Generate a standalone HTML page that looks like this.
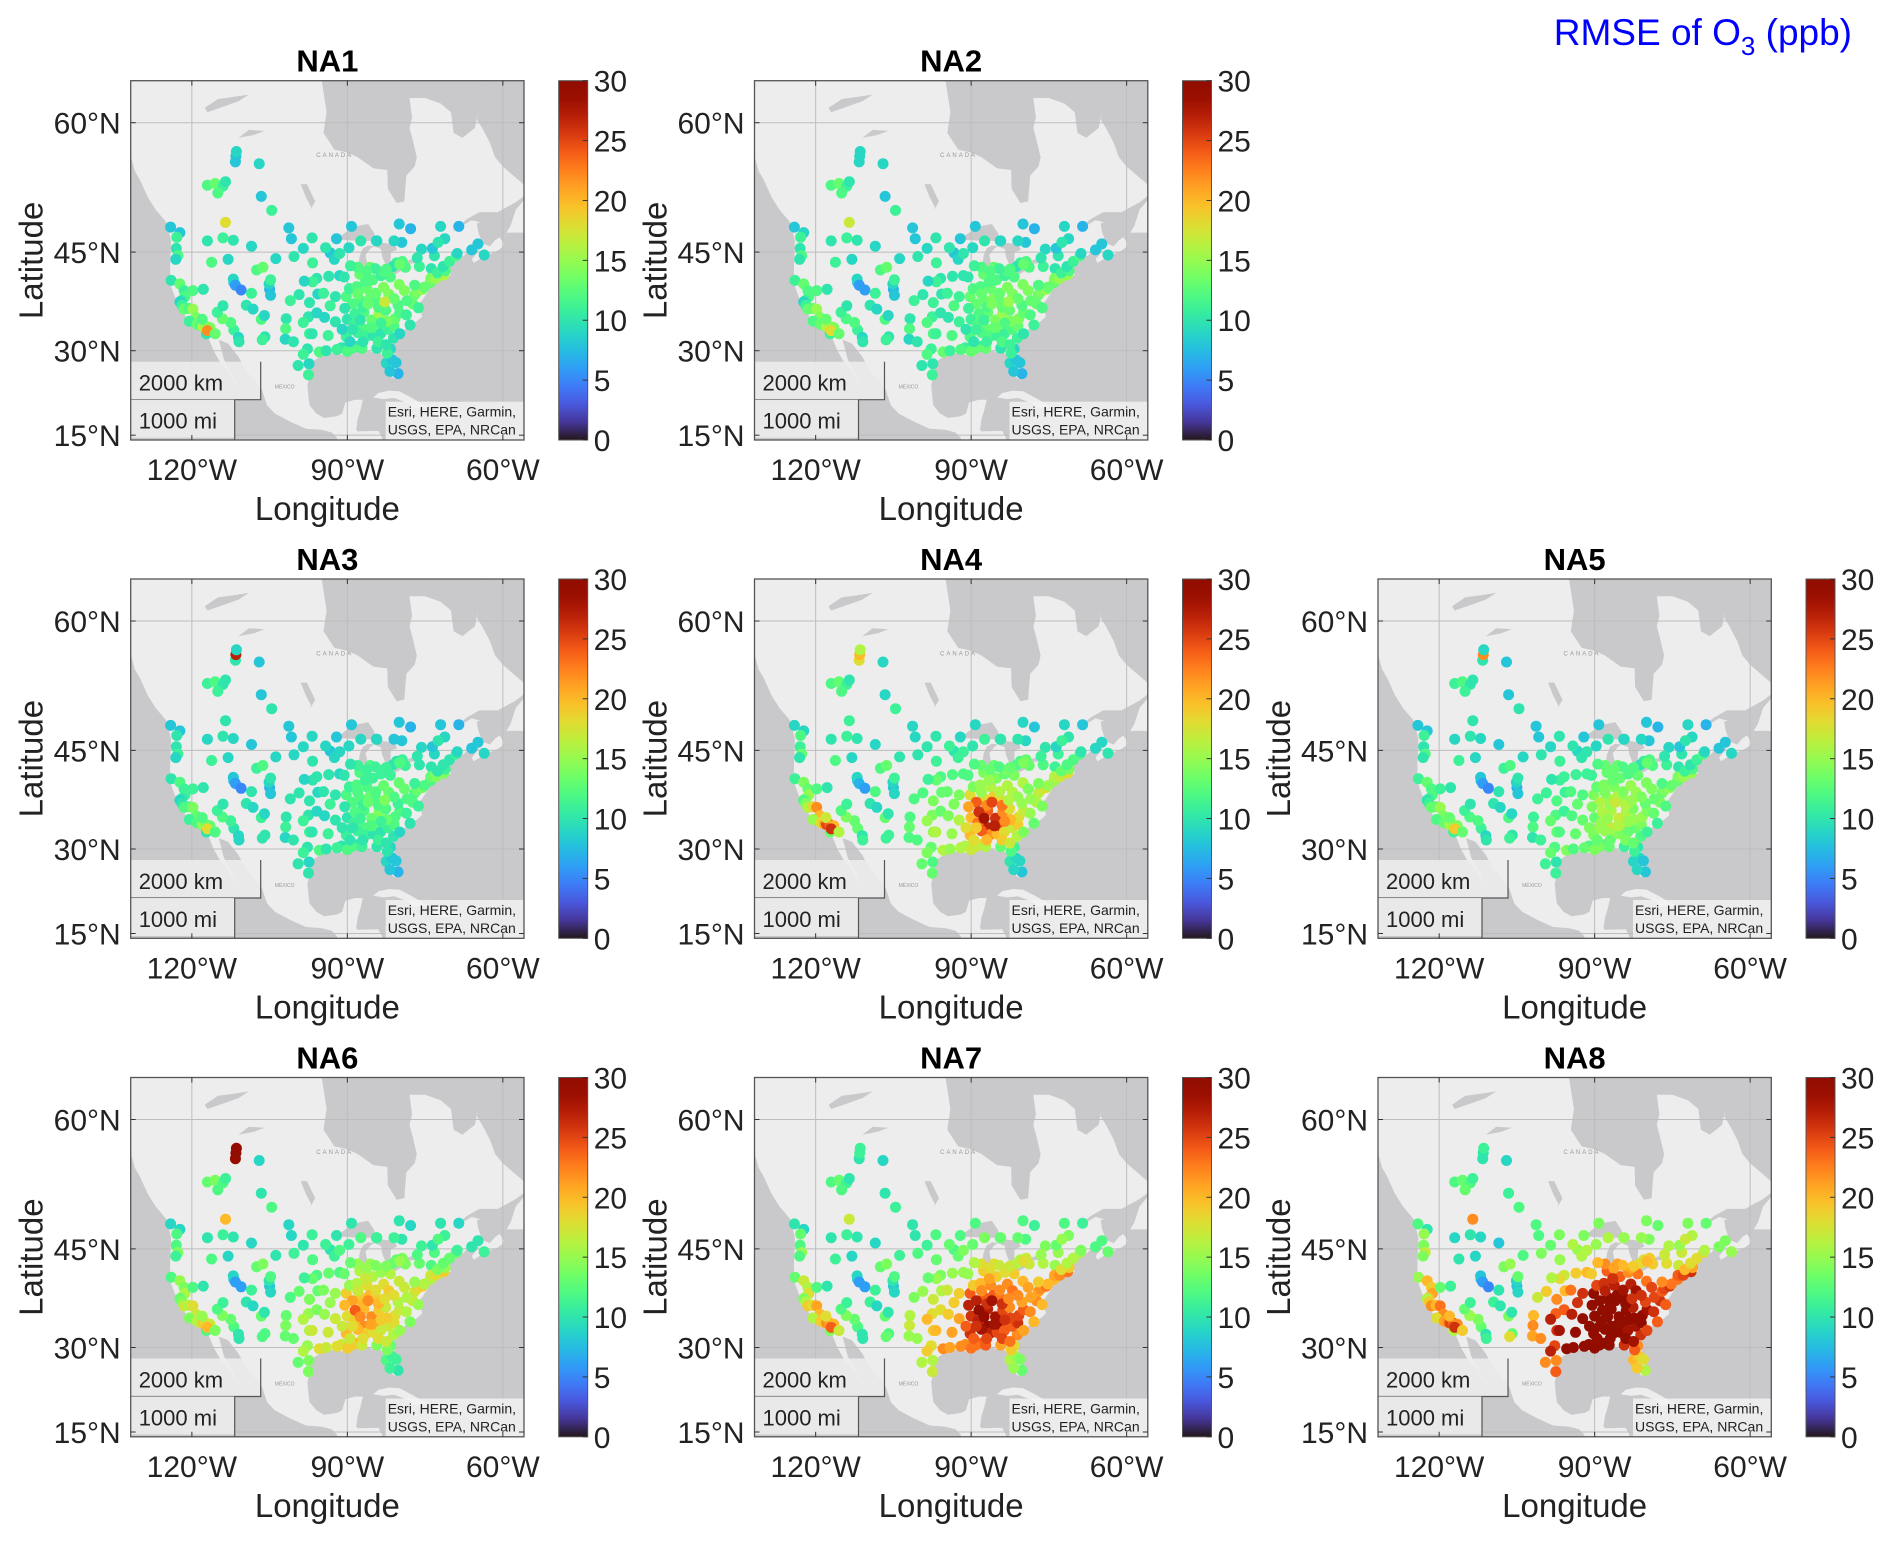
<!DOCTYPE html>
<html><head><meta charset="utf-8"><style>
body{margin:0;background:#fff;}
svg{display:block;font-family:"Liberation Sans",Arial,sans-serif;}
</style></head><body>
<svg id="fig" width="1892" height="1541" viewBox="0 0 1892 1541" xmlns="http://www.w3.org/2000/svg">
<text x="1852" y="45" text-anchor="end" font-size="37" fill="#0000ff">RMSE of O<tspan font-size="26" dy="10">3</tspan><tspan dy="-10"> (ppb)</tspan></text>
</svg>
<script>
// ---- station coordinates (lon / lat) grouped W-coast, interior west, north, plains, east ----
const lons = [
-122.3,-122.9,-123,-122.7,-123.1,-124,-122.3,-121.5,-121.3,-122,-122.3,-121.9,-121.5,-120.6,-119.8,-119.2,-120.5,-119,-118.3,-117.9,-117.3,-116.5,-117.2,-117,-115.5,-118,-124.1,
-116.2,-117,-114,-112,-108.5,-111.9,-112,-111.6,-110.5,-108.5,-105,-105.1,-104.8,-106.6,-106,-105.9,-111.9,-111,-110.9,-112.5,-114.1,-115.1,-114,-119.8,-117.8,-113,-107.5,-106.3,-104.8,-103.8,-109.5,-108.2,
-117,-115.5,-114,-113.5,-115,-111.6,-111.5,-111.4,-107,-113.5,-106.6,-104.6,
-100.8,-96.8,-98.5,-96.7,-100.3,-101.3,-95.9,-96.7,-98.3,-97.3,-95.7,-99.3,-101,-97.5,-95.9,-98.5,-101.8,-101.9,-97.3,-96.8,-97.7,-98.5,-95.4,-94.1,-97.4,-97.5,-99.5,-102,-106.4,-100.4,-93.3,-92.5,-94.2,-93.6,-91.5,-94.6,-92.3,-90.2,-93.3,-92.3,-94.4,-90.2,-91.1,-93.7,-90,-92,-88.2,-89.1,
-87.6,-88,-89.4,-90.6,-89.6,-88.2,-86.2,-85.1,-87.5,-85.7,-84.5,-84.5,-83,-81.7,-83.5,-83,-85.6,-84.6,-86.3,-84.4,-87.4,-89.7,-91.5,-92.1,
-86.8,-85.3,-83.9,-82.6,-90,-88.7,-86.8,-86.3,-85,-88,-84.4,-83.6,-81.1,-82.1,-81,-80.8,-79.9,-78.6,-77.9,-79.9,-82.4,-80.2,-77.4,-76.3,-78.5,
-77,-76.6,-75.5,-75.2,-77,-80,-78.8,-76.1,-73.8,-74,-73.9,-72.9,-71.4,-71.1,-72.6,-71.5,-70.3,-69,-68.8,-73.2,-75.7,-73.6,-71.2,-72.5,-79.4,-80.5,-81.2,-82.5,-79.9,-76.5,-79.5,-81,-84.3,-89.2,-80,-77.8,-72,-68.5,-66,-63.6,-64.8,
-82.5,-81.4,-80.2,-81.7,-84.3,-82.3,-80.6,-87.2,-81.8,
-87,-89,-86,-84,-88.5,-87.5,-85.5,-83.5,-87,-89.5,-84,-82.5,-90.5,-88,-86.5,-82,-81,-79,-82.8,-91,-89];
const lats = [
47.6,47,45.5,44.5,44,41,40.5,39.5,38.6,38,37.8,37.3,36.7,36.8,36.7,35.4,34.8,34.3,34.1,34,34,33.8,32.8,33.3,32.8,35.1,48.3,
43.6,46.5,46.9,46.6,45.8,40.7,41.2,40.3,39.6,39.1,39.7,40.5,38.8,35.1,35.7,32.3,33.4,32.2,31.5,34.6,35.2,36.2,37.2,39.5,39.7,44,42.5,42.9,41.1,44.1,37.3,36.7,
53.4,53.6,53.3,53.8,52.5,56.0,56.6,57.1,55.8,48.9,52.1,50.4,
46.8,46.9,45.5,43.5,44.4,48.2,41.3,40.8,40.9,37.7,39,38.9,38,35.5,36.1,34.6,35.2,33.6,32.8,32.8,30.3,29.4,29.8,30,27.8,25.9,27.5,31.9,31.8,31.5,44.9,44,45.6,41.6,41.7,39.1,38.6,38.6,37.2,34.7,35.4,32.3,30.5,32.5,29.9,30.2,30.7,30.4,
41.9,42.9,43.1,41.5,39.8,40.1,39.8,41.1,38,38.3,38,39.1,40,41.5,41.7,42.3,42.9,42.7,42.3,46.5,46.5,45.6,44.8,46.8,
36.2,35,36,36.5,35.1,34.3,33.5,32.4,32.5,33,33.8,32.8,32.1,33.5,34,35.2,36.1,35.8,34.2,32.8,34.8,37.3,37.5,36.9,38,
38.9,39.3,39.7,40,40.3,40.4,42.9,43,42.7,40.7,41.3,41.3,41.8,42.4,42.1,43,43.7,44.5,44.8,44.5,45.4,45.5,46.8,46.3,43.7,43.5,43,42.6,43.3,44.2,46.3,46.5,46.5,48.4,48.7,48.1,48.4,48.4,45.3,44.6,46.1,
27.9,28.5,26.1,30.3,30.4,29.6,28,30.4,26.5,
37,37.5,37.5,37,36,35,33.8,34.5,31.5,31.5,31.5,31,36.8,39,40.8,39,38.3,39.5,37.8,33.5,33.5];

// ---- RMSE values (ppb), one per station, per experiment ----
const rmseNA1 = [8,11,10,12,9,10,13,11,12,10,9,11,13,12,15,14,11,13,12,16,15,14,10,22,13,12,8,
12,10,11,10,9,8,9,6,5,11,7,9,8,12,9,10,11,9,10,12,13,11,10,12,10,9,12,13,11,9,10,9,
12,13,11,10,12,8,8,9,9,18,8,11,
8,10,9,11,10,8,10,11,9,10,9,10,11,10,9,11,10,12,11,10,10,11,12,10,9,11,10,9,11,10,8,9,10,10,9,11,10,12,11,10,9,11,10,11,12,11,10,12,
13,12,11,10,11,12,13,12,12,13,12,13,14,12,11,12,13,11,12,9,10,9,10,8,
12,13,15,12,10,11,12,11,10,11,13,10,10,11,12,13,12,11,10,9,14,12,13,11,12,
13,14,15,13,12,14,12,11,10,13,14,15,16,12,11,10,11,12,9,10,9,8,9,10,12,11,10,12,13,10,8,9,9,8,8,7,9,7,8,9,8,
9,8,7,9,10,11,8,12,8,
11,12,13,12,11,10,12,11,10,9,11,10,10,13,12,14,13,14,17,9,10];
const rmseNA2 = [9,11,10,12,10,11,13,12,12,11,9,11,13,13,15,14,12,13,13,16,16,14,11,18,13,13,8,
11,10,11,10,9,8,9,6,6,11,7,9,8,12,9,10,11,9,10,12,12,11,10,12,10,9,12,13,11,9,10,9,
12,13,11,10,12,9,9,9,9,17,8,11,
8,10,9,11,10,8,10,11,9,11,10,10,11,11,10,12,10,12,12,11,11,12,13,11,10,11,10,9,11,10,8,9,10,10,10,11,11,13,12,11,10,12,11,12,13,12,11,13,
13,12,11,10,12,12,13,12,13,14,13,13,14,12,11,12,13,11,12,9,10,9,10,8,
13,14,15,13,11,12,13,12,11,12,14,11,11,12,13,14,13,12,11,10,14,12,13,12,13,
13,14,15,13,12,14,12,11,10,13,14,15,15,12,11,10,11,12,9,10,9,8,9,10,12,11,10,12,13,10,8,9,9,8,8,7,9,7,8,9,8,
9,8,7,9,10,11,8,13,8,
12,13,14,13,12,11,13,12,11,10,12,11,11,13,12,14,13,14,15,10,11];
const rmseNA3 = [8,10,10,11,9,10,12,11,11,10,9,10,12,12,14,13,11,12,12,15,14,13,10,18,12,12,8,
11,9,10,9,8,7,8,6,5,10,7,9,8,11,9,10,10,9,9,11,12,11,10,11,10,9,11,12,10,9,10,9,
11,12,10,10,11,10,27,9,8,10,8,10,
8,9,9,10,9,8,10,10,9,10,9,10,10,10,9,11,10,11,11,10,10,11,12,10,9,10,10,9,10,10,8,9,9,10,9,10,10,12,11,10,9,11,10,11,12,11,10,12,
12,11,10,10,11,12,12,11,12,13,12,12,13,11,11,11,12,11,11,9,9,9,9,8,
12,13,14,12,10,11,12,11,10,11,13,10,10,11,12,12,12,11,10,9,13,11,12,11,12,
12,13,14,12,11,13,11,10,10,12,13,14,14,11,10,10,10,11,9,9,9,8,9,10,11,10,10,11,12,10,8,8,9,8,8,7,8,7,8,9,8,
9,8,7,9,10,10,8,11,8,
11,12,13,12,12,11,12,11,10,10,11,10,10,12,11,13,12,13,14,10,10];
const rmseNA4 = [9,12,11,13,10,11,14,13,15,14,12,14,16,18,22,20,15,18,21,25,24,20,13,26,16,17,9,
12,10,11,10,9,8,9,7,6,12,8,9,9,13,10,11,13,10,11,13,14,12,11,12,10,9,12,13,11,10,10,9,
12,13,11,10,12,18,20,16,9,11,9,11,
9,10,10,11,10,9,12,13,11,14,13,12,12,14,13,15,12,13,15,16,13,14,16,15,12,13,13,12,11,12,10,11,11,12,12,13,14,18,14,16,14,20,16,15,17,16,18,17,
14,13,12,12,14,15,16,14,18,19,18,16,16,14,13,14,13,12,13,10,11,10,11,9,
24,26,22,18,20,23,27,22,20,24,25,18,16,17,19,18,17,15,13,14,20,15,16,14,15,
16,17,18,15,14,16,13,12,11,15,16,17,18,14,13,12,12,12,10,11,10,9,10,11,13,12,12,13,14,11,9,10,10,9,9,8,9,8,9,10,9,
10,9,8,11,13,12,9,16,9,
22,24,25,23,26,28,27,22,20,18,19,17,21,15,15,16,15,14,16,18,19];
const rmseNA5 = [8,11,10,12,10,11,13,12,12,11,10,11,13,13,15,14,12,13,13,16,15,14,11,19,13,13,8,
11,9,10,9,8,7,8,6,5,10,7,9,8,12,9,10,11,9,10,12,12,11,10,11,10,9,11,12,10,9,10,9,
11,12,10,10,11,10,22,9,8,10,8,10,
8,10,9,11,10,8,11,11,10,12,11,11,11,12,11,13,11,12,13,12,12,13,14,12,10,11,11,10,11,11,9,10,10,11,11,12,12,14,13,13,12,14,12,13,14,13,12,14,
13,13,12,11,13,14,14,13,15,16,15,14,15,13,12,12,13,12,13,9,10,9,10,8,
16,17,16,14,13,15,17,15,14,15,17,13,12,13,14,15,14,13,11,11,15,13,14,12,13,
13,14,15,13,12,14,12,11,10,13,14,15,15,12,11,10,11,12,9,10,9,8,9,10,12,11,10,12,13,10,8,9,9,8,8,7,9,7,8,9,8,
9,9,8,10,11,11,8,13,9,
15,16,17,16,16,15,16,15,13,13,14,13,14,14,13,15,14,14,15,14,15];
const rmseNA6 = [9,12,12,14,11,12,15,14,16,15,13,14,17,16,18,17,14,16,16,19,18,17,12,20,14,15,9,
12,10,11,10,9,8,9,6,6,11,8,10,9,13,10,12,12,10,10,13,14,12,11,12,10,9,13,14,12,10,10,9,
13,14,12,11,12,29,30,29,9,20,10,12,
9,11,10,12,11,9,12,13,11,14,13,13,12,15,14,16,13,14,16,17,15,16,18,17,14,14,13,13,12,13,10,11,11,13,12,14,15,19,15,17,15,20,17,17,19,18,20,19,
16,15,13,13,15,16,18,16,19,20,19,18,18,16,15,15,15,14,15,11,12,11,12,10,
20,22,19,17,18,19,22,19,18,20,21,17,16,17,18,18,17,16,14,15,19,16,17,15,16,
17,18,19,16,15,17,14,13,12,16,17,18,19,15,14,13,13,13,11,12,11,10,11,12,14,13,13,14,15,12,10,11,11,10,10,9,10,9,10,11,10,
12,11,10,13,14,14,11,17,11,
20,21,22,20,24,22,21,19,18,17,18,17,20,17,17,19,18,17,18,17,18];
const rmseNA7 = [9,13,12,15,12,13,17,16,18,17,14,16,19,18,21,20,16,19,19,22,21,20,14,24,17,18,10,
11,10,11,10,9,8,9,6,6,11,8,10,9,13,10,12,12,10,10,13,14,12,11,12,10,9,13,14,12,11,11,9,
12,13,11,10,12,10,11,11,9,17,10,11,
10,12,11,13,12,10,14,15,13,17,16,15,14,18,18,20,16,17,19,20,18,19,22,21,16,17,16,15,13,15,12,13,13,15,15,17,19,24,19,21,19,26,22,21,23,22,24,23,
19,18,16,15,19,20,22,19,24,24,23,22,22,19,18,18,18,17,18,13,14,13,14,12,
27,28,25,22,26,27,30,27,25,28,29,24,22,24,26,25,24,22,20,21,25,21,22,20,21,
21,22,23,20,19,20,17,16,15,20,21,22,23,19,18,16,16,16,14,15,14,13,14,15,17,16,16,17,18,15,12,13,13,12,12,11,12,11,12,13,12,
16,15,13,18,21,19,14,24,15,
26,27,28,26,30,29,28,26,25,24,25,23,27,22,21,23,22,21,22,24,26];
const rmseNA8 = [10,15,14,17,14,15,20,19,21,20,16,19,22,20,23,22,18,21,22,25,24,22,16,26,19,20,12,
10,9,10,9,8,7,8,6,5,10,8,9,9,14,10,13,13,10,11,14,15,13,11,13,11,9,14,15,13,12,11,10,
12,13,12,11,13,10,10,11,9,22,11,12,
12,14,13,15,14,12,17,18,16,22,20,19,17,24,24,27,20,22,26,28,25,27,30,29,22,24,22,21,18,22,15,16,16,19,20,23,26,30,26,29,27,30,30,29,30,30,30,30,
24,22,20,19,25,26,27,24,30,30,29,28,27,23,22,21,21,20,21,15,16,15,16,14,
30,30,29,27,30,30,30,30,29,30,30,28,26,28,30,29,28,26,24,25,29,25,26,24,25,
24,25,26,23,22,23,19,18,17,23,24,25,26,21,20,18,18,18,16,17,16,15,16,17,19,18,18,19,20,17,14,15,15,14,14,13,14,13,14,15,14,
20,19,16,22,26,24,18,30,19,
30,30,30,30,30,30,30,30,30,29,30,28,30,27,26,28,26,25,26,30,30];

const panelNames = ["NA1","NA2","NA3","NA4","NA5","NA6","NA7","NA8"];
const panelValues = [rmseNA1,rmseNA2,rmseNA3,rmseNA4,rmseNA5,rmseNA6,rmseNA7,rmseNA8];
const cbTicks = [0,5,10,15,20,25,30];
const lonTicks = [-120,-90,-60];
const latTicks = [60,45,30,15];

const NS="http://www.w3.org/2000/svg";
const svg=document.getElementById('fig');
function el(tag,attrs,parent){const e=document.createElementNS(NS,tag);for(const k in attrs)e.setAttribute(k,attrs[k]);(parent||svg).appendChild(e);return e;}

const colX=[130.7,754.5,1378], rowY=[80.7,579,1077.5];
const slots=[[0,0],[1,0],[0,1],[1,1],[2,1],[0,2],[1,2],[2,2]];
const W=393.3,H=359.3, LON0=-131.8, PXD=5.183, MTOP=1.4584, PXR=297, CMAX=30;
function merc(lat){return Math.log(Math.tan(Math.PI/4+lat*Math.PI/360));}
function turbo(v){let x=Math.max(0,Math.min(1,v));
 const r=0.13572138+x*(4.61539260+x*(-42.66032258+x*(132.13108234+x*(-152.94239396+x*59.28637943))));
 const g=0.09140261+x*(2.19418839+x*(4.84296658+x*(-14.18503333+x*(4.27729857+x*2.82956604))));
 const b=0.10667330+x*(12.64194608+x*(-60.58204836+x*(110.36276771+x*(-89.90310912+x*27.34824973))));
 const c=t=>Math.round(255*Math.max(0,Math.min(1,t)));return `rgb(${c(r)},${c(g)},${c(b)})`;}

const ocean=[[-50,10],[-83,10],[-83.3,14.5],[-84,15.8],[-88,15.7],[-88.3,16],[-88,18],[-87.5,19.5],[-87,21.5],[-88.5,21.5],[-90.4,21],[-91,19],[-92,18.5],[-94.5,18.2],[-96,19],[-97.3,20.5],[-97.5,22],[-97.7,24],[-97.2,26],[-97.3,27.8],[-96,28.6],[-94,29.6],[-92,29.6],[-90,29.1],[-89,30.2],[-87,30.3],[-85,29.7],[-84,30],[-82.8,28.8],[-82.6,27.5],[-81.8,26],[-81,25.2],[-80.3,25.3],[-80.1,26.5],[-80.6,28.5],[-81.3,30.5],[-81.2,31.8],[-80,32.7],[-78.5,33.8],[-76.7,34.7],[-75.6,35.5],[-75.9,36.9],[-76.3,37.5],[-75.7,37.9],[-75.1,38.6],[-74.4,39.4],[-74,40.4],[-73,40.8],[-71.9,41.3],[-70.7,41.5],[-70,41.8],[-70.6,42.6],[-70.8,43],[-70.2,43.7],[-69,44.1],[-67.5,44.5],[-66.9,45],[-65.5,45.3],[-64.5,45.3],[-66,44],[-65.6,43.5],[-63.6,44.4],[-61,45.2],[-60,45.7],[-59.8,46.1],[-60.6,47],[-61.5,46.6],[-62.5,45.8],[-64,46.2],[-64.8,47.8],[-65,48.8],[-64.3,48.9],[-66,49.2],[-69.8,47.7],[-67,49.3],[-64.5,50.2],[-61,50.2],[-57.5,51.4],[-55.8,52.2],[-56,53.5],[-58,54.5],[-60,55.5],[-61.5,56.5],[-62.5,58],[-64,59.5],[-65,60.3],[-64.8,61],[-64,65],[-50,65]];
const pacific=[[-135,57],[-132,57],[-131,55],[-130,54],[-128.5,52],[-127,50.5],[-125,49],[-124.7,48.4],[-124,46.5],[-124.2,43],[-124.2,40.5],[-123,38],[-122.5,37.5],[-121.9,36.5],[-120.6,34.6],[-118.5,34],[-117.2,32.7],[-116.5,31.5],[-115.8,30],[-114.5,28],[-113,26.5],[-111.8,24.6],[-110,23],[-106.5,23.3],[-105.5,20.5],[-104,19],[-101,17.5],[-98,16.2],[-95,16],[-93,15.5],[-92,14.5],[-92,10],[-135,10]];
const gulfCal=[[-114.8,31.8],[-113,31.2],[-111,29],[-109.5,26.5],[-108,25],[-106.5,23.3],[-110,23],[-111.5,24.5],[-112.5,26.5],[-113.8,28.5]];
const hudson=[[-95,64],[-94,61],[-94.6,59],[-92.5,57.3],[-90,57],[-88,56.5],[-85,55.3],[-82.3,55.1],[-82.2,53],[-80.5,51.3],[-79,51.5],[-78.9,52.5],[-78.6,54.5],[-77,55.5],[-76.6,56.5],[-77.4,58.3],[-78,59.5],[-77.5,60.5],[-78,62.3],[-75,62.3],[-72,61.8],[-70,61],[-69.5,59],[-67.8,58.5],[-65.4,59.5],[-65,60.5],[-64.6,61.3],[-64,65],[-95,65]];
const lakes=[
[[-92.1,46.7],[-90,46.6],[-87.5,46.5],[-85,46.5],[-84.6,46.5],[-84.8,47.5],[-86,48.7],[-88.5,48.4],[-89.5,48],[-91,47.3]],
[[-87.8,42],[-87.5,41.7],[-86.9,41.7],[-86.3,42.5],[-86.2,43.6],[-86.5,44.6],[-85.5,45.5],[-84.8,45.8],[-86,45.9],[-87,45.5],[-87.6,44.5],[-87.8,43.5]],
[[-84.8,45.8],[-83.5,45.4],[-83.3,44.4],[-82.5,43],[-81.7,43.5],[-81.6,45],[-80.4,45.3],[-80.8,46],[-82.5,46.2],[-84,46.3]],
[[-83.4,41.7],[-82.5,41.4],[-81,41.8],[-79,42.6],[-79.2,42.9],[-81,42.6],[-82.5,42.1]],
[[-79.8,43.3],[-78,43.4],[-76.2,43.5],[-76.4,44.2],[-77.5,44],[-79.4,43.6]],
[[-97.2,50.4],[-96.2,51.5],[-97.8,53.5],[-99,53.5],[-98,52],[-97,50.8]],
[[-111,58.5],[-109,59.3],[-106,59.2],[-108,58.8]],
[[-117,61],[-114,61.5],[-111,62],[-109,62.6],[-112,62.4],[-115,62.2],[-117.5,61.4]]];
const islands=[
[[-59.3,47.6],[-58.5,48.5],[-57.5,50.5],[-56,51.6],[-54,51.5],[-54,47.5],[-56.5,47.6],[-58,47.6]],
[[-85,21.9],[-84,22.7],[-82,23.1],[-80,23],[-77.5,21.8],[-75.5,20.7],[-74.2,20.2],[-77.5,19.9],[-78,20.8],[-81,21.8],[-83,21.6]],
[[-74.4,18.5],[-72.8,19.9],[-70,19.7],[-68.4,18.6],[-71,18],[-74,18.2]],
[[-78.3,18.4],[-76.3,18.2],[-76.8,17.9],[-78,18.2]]];

panelNames.forEach((name,i)=>{
 const x0=colX[slots[i][0]], y0=rowY[slots[i][1]], vals=panelValues[i];
 const px=lon=>x0+(lon-LON0)*PXD;
 const py=lat=>y0+(MTOP-merc(lat))*PXR;
 const pts=a=>a.map(p=>px(p[0]).toFixed(1)+','+py(p[1]).toFixed(1)).join(' ');
 const g=el('g',{});
 
 
 const cp=el('clipPath',{id:'clip'+i},g);
 el('rect',{x:x0,y:y0,width:W,height:H},cp);
 const map=el('g',{'clip-path':`url(#clip${i})`},g);
 
 
 el('rect',{x:x0,y:y0,width:W,height:H,fill:'#ededed'},map);
 [ocean,pacific,gulfCal,hudson].forEach(a=>el('polygon',{points:pts(a),fill:'#c9c9cb'},map));
 islands.forEach(a=>el('polygon',{points:pts(a),fill:'#ededed'},map));
 lakes.forEach(a=>el('polygon',{points:pts(a),fill:'#c9c9cb'},map));
 const tl=el('text',{x:px(-96),y:py(56.5),'font-size':6,fill:'#999','letter-spacing':2},map);tl.textContent='CANADA';
 const tm=el('text',{x:px(-104),y:py(23.5),'font-size':5,fill:'#999'},map);tm.textContent='MÉXICO';
 lonTicks.forEach(l=>el('line',{x1:px(l),x2:px(l),y1:y0,y2:y0+H,stroke:'#bdbdbd','stroke-width':1},map));
 latTicks.forEach(l=>el('line',{x1:x0,x2:x0+W,y1:py(l),y2:py(l),stroke:'#bdbdbd','stroke-width':1},map));
 const dots=el('g',{},map);
 
 
 for(let k=0;k<lons.length;k++){ if(vals[k]===undefined)continue;
  const c=el('circle',{cx:px(lons[k]).toFixed(1),cy:py(lats[k]).toFixed(1),r:5.5,fill:turbo(vals[k]/CMAX)},dots);
  
  
 }
 const sb=el('g',{},g);
 
 
 el('rect',{x:x0,y:y0+281,width:130,height:38,fill:'#ececec','fill-opacity':0.9},sb);
 el('polyline',{points:`${x0},${y0+319} ${x0+130},${y0+319} ${x0+130},${y0+281}`,fill:'none',stroke:'#555','stroke-width':1.2},sb);
 el('rect',{x:x0,y:y0+319,width:104,height:38,fill:'#ececec','fill-opacity':0.9},sb);
 el('line',{x1:x0+104,x2:x0+104,y1:y0+319,y2:y0+H,stroke:'#555','stroke-width':1.2},sb);
 let t=el('text',{x:x0+8,y:y0+310,'font-size':22,fill:'#222'},sb);t.textContent='2000 km';
 t=el('text',{x:x0+8,y:y0+348,'font-size':22,fill:'#222'},sb);t.textContent='1000 mi';
 const at=el('g',{},g);
 
 
 el('rect',{x:x0+255,y:y0+321,width:W-255,height:H-321,fill:'#f2f2f2','fill-opacity':0.85},at);
 t=el('text',{x:x0+257,y:y0+336,'font-size':14,fill:'#222'},at);t.textContent='Esri, HERE, Garmin,';
 t=el('text',{x:x0+257,y:y0+354,'font-size':14,fill:'#222'},at);t.textContent='USGS, EPA, NRCan';
 el('rect',{x:x0,y:y0,width:W,height:H,fill:'none',stroke:'#555','stroke-width':1.3},g);
 lonTicks.forEach(l=>{
  el('line',{x1:px(l),x2:px(l),y1:y0+H,y2:y0+H-5,stroke:'#333'},g);
  el('line',{x1:px(l),x2:px(l),y1:y0,y2:y0+5,stroke:'#333'},g);
  const lt=el('text',{x:px(l),y:y0+H+40,'font-size':30,'text-anchor':'middle',fill:'#222'},g);
  
  
  lt.textContent=Math.abs(l)+'°W';
 });
 latTicks.forEach(l=>{
  el('line',{x1:x0,x2:x0+5,y1:py(l),y2:py(l),stroke:'#333'},g);
  el('line',{x1:x0+W,x2:x0+W-5,y1:py(l),y2:py(l),stroke:'#333'},g);
  const lt=el('text',{x:x0-10,y:Math.min(py(l),y0+H-4)+11,'font-size':30,'text-anchor':'end',fill:'#222'},g);
  
  
  lt.textContent=l+'°N';
 });
 const xl=el('text',{x:x0+W/2,y:y0+H+80,'font-size':33,'text-anchor':'middle',fill:'#222'},g);
 
 
 xl.textContent='Longitude';
 const yl=el('text',{x:0,y:0,'font-size':33,'text-anchor':'middle',fill:'#222',transform:`translate(${x0-88},${y0+H/2}) rotate(-90)`},g);
 
 
 yl.textContent='Latitude';
 const ti=el('text',{x:x0+W/2,y:y0-9,'font-size':31,'font-weight':'bold','text-anchor':'middle',fill:'#000'},g);
 
 
 ti.textContent=name;
 const cb=el('g',{},g);
 
 
 const gid='grad'+i;
 const lg=el('linearGradient',{id:gid,x1:0,y1:1,x2:0,y2:0},cb);
 for(let s=0;s<=20;s++)el('stop',{offset:(s/20),'stop-color':turbo(s/20)},lg);
 const cbx=x0+428, cbw=29;
 el('rect',{x:cbx,y:y0,width:cbw,height:H,fill:`url(#${gid})`,stroke:'#555','stroke-width':1},cb);
 cbTicks.forEach(v=>{
  const yy=y0+H-(v/CMAX)*H;
  el('line',{x1:cbx+cbw,x2:cbx+cbw-5,y1:yy,y2:yy,stroke:'#333'},cb);
  const ct=el('text',{x:cbx+cbw+6,y:yy+11,'font-size':30,fill:'#222'},cb);
  
  
  ct.textContent=v;
 });
});
</script>
</body></html>
